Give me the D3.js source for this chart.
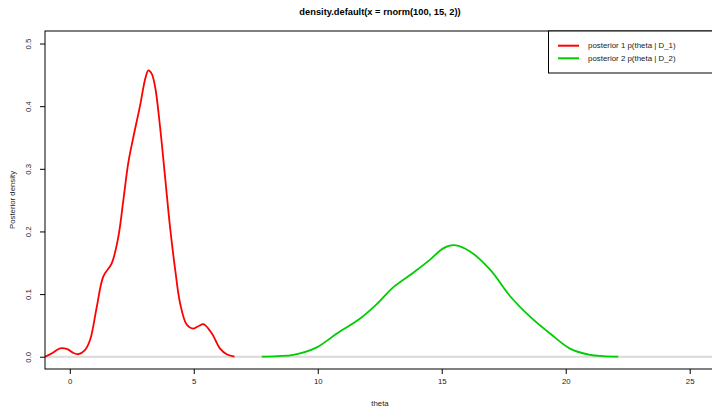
<!DOCTYPE html>
<html>
<head>
<meta charset="utf-8">
<script src="https://cdn.jsdelivr.net/npm/d3@7"></script>
<style>
  body { margin: 0; background: #fff; }
  svg { display: block; font-family: "Liberation Sans", Arial, sans-serif; }
</style>
</head>
<body>
<div id="chart"></div>
<script>
// posterior 1 density (theta, density)
const post1Theta = [-1.0, -0.7, -0.39, -0.1, 0.15, 0.35, 0.6, 0.82, 1.09, 1.35, 1.69, 1.96, 2.16, 2.36, 2.56, 2.83, 3.05, 3.17, 3.3, 3.44, 3.64, 3.84, 4.04, 4.25, 4.45, 4.72, 4.98, 5.2, 5.39, 5.73, 6.06, 6.33, 6.64];
const post1Dens  = [0.0, 0.006, 0.0134, 0.012, 0.006, 0.004, 0.010, 0.027, 0.080, 0.128, 0.149, 0.192, 0.250, 0.310, 0.350, 0.400, 0.445, 0.457, 0.452, 0.431, 0.367, 0.288, 0.208, 0.139, 0.085, 0.051, 0.045, 0.049, 0.052, 0.037, 0.013, 0.004, 0.0];

// posterior 2 density
const post2Theta = [7.74, 8.4, 9.02, 9.96, 10.77, 11.71, 12.38, 13.05, 13.85, 14.53, 15.06, 15.5, 16.14, 16.95, 17.75, 18.56, 19.37, 20.17, 20.98, 21.5, 22.12];
const post2Dens  = [0.0, 0.001, 0.003, 0.015, 0.037, 0.061, 0.084, 0.111, 0.134, 0.155, 0.173, 0.178, 0.168, 0.139, 0.097, 0.064, 0.037, 0.013, 0.003, 0.001, 0.0];

const xTicks = [0, 5, 10, 15, 20, 25];
const yTicks = [0.0, 0.1, 0.2, 0.3, 0.4, 0.5];
const seriesNames = ["posterior 1 p(theta | D_1)", "posterior 2 p(theta | D_2)"];
const seriesColors = ["#ff0000", "#00cd00"];

const width = 712, height = 407;
const margin = {top: 31, right: -3, bottom: 38, left: 45};
const innerLeft = margin.left, innerRight = width - margin.right;
const innerTop = margin.top, innerBottom = height - margin.bottom;

const svg = d3.select("#chart").append("svg")
    .attr("width", width)
    .attr("height", height);

const x = d3.scaleLinear().domain([-1.0, 26.02]).range([innerLeft, innerRight]);
const y = d3.scaleLinear().domain([-0.0196, 0.52]).range([innerBottom, innerTop]);

svg.append("clipPath").attr("id", "clip")
  .append("rect")
    .attr("x", innerLeft).attr("y", innerTop)
    .attr("width", innerRight - innerLeft).attr("height", innerBottom - innerTop);

const plot = svg.append("g").attr("clip-path", "url(#clip)");

// abline at zero
plot.append("line")
    .attr("x1", innerLeft).attr("x2", innerRight)
    .attr("y1", y(0)).attr("y2", y(0))
    .attr("stroke", "#d9d9d9")
    .attr("stroke-width", 2);

const line = d3.line()
    .x(d => x(d[0]))
    .y(d => y(d[1]))
    .curve(d3.curveCatmullRom.alpha(0.5));

const series = [
    d3.zip(post1Theta, post1Dens),
    d3.zip(post2Theta, post2Dens)
];

plot.selectAll("path.dens")
    .data(series)
    .join("path")
    .attr("class", "dens")
    .attr("d", line)
    .attr("fill", "none")
    .attr("stroke", (d, i) => seriesColors[i])
    .attr("stroke-width", 1.8);

// axes
const xAxis = svg.append("g")
    .attr("transform", `translate(0,${innerBottom})`)
    .call(d3.axisBottom(x).tickValues(xTicks).tickFormat(d3.format("d")).tickSize(5).tickPadding(4));
xAxis.select(".domain").remove();

const yAxis = svg.append("g")
    .attr("transform", `translate(${innerLeft},0)`)
    .call(d3.axisLeft(y).tickValues(yTicks).tickFormat(d3.format(".1f")).tickSize(5));
yAxis.select(".domain").remove();
yAxis.selectAll("text")
    .attr("x", 0).attr("dy", 0)
    .attr("transform", "translate(-14,0) rotate(-90)")
    .attr("text-anchor", "middle");

svg.selectAll(".tick line").attr("stroke", "#000");
svg.selectAll(".tick text")
    .style("font-size", "7.8px")
    .attr("fill", "#222");

// box
svg.append("rect")
    .attr("x", innerLeft).attr("y", innerTop)
    .attr("width", innerRight - innerLeft).attr("height", innerBottom - innerTop)
    .attr("fill", "none")
    .attr("stroke", "#000")
    .attr("stroke-width", 1);

// title and labels
const cx = (innerLeft + innerRight) / 2;
svg.append("text")
    .attr("x", cx).attr("y", 15)
    .attr("text-anchor", "middle")
    .style("font-size", "9.3px")
    .style("font-weight", "bold")
    .text("density.default(x = rnorm(100, 15, 2))");

svg.append("text")
    .attr("x", cx).attr("y", 406)
    .attr("text-anchor", "middle")
    .style("font-size", "7.8px")
    .attr("fill", "#222")
    .text("theta");

svg.append("text")
    .attr("transform", `translate(15,${(innerTop + innerBottom) / 2}) rotate(-90)`)
    .attr("text-anchor", "middle")
    .style("font-size", "7.8px")
    .attr("fill", "#222")
    .text("Posterior density");

// legend
const legend = svg.append("g");
legend.append("rect")
    .attr("x", 548.5).attr("y", innerTop)
    .attr("width", 200).attr("height", 42)
    .attr("fill", "#fff")
    .attr("stroke", "#000");

const rows = legend.selectAll("g.row")
    .data(seriesNames)
    .join("g")
    .attr("class", "row")
    .attr("transform", (d, i) => `translate(0,${45.7 + i * 12.6})`);

rows.append("line")
    .attr("x1", 558).attr("x2", 579)
    .attr("stroke", (d, i) => seriesColors[i])
    .attr("stroke-width", 2);

rows.append("text")
    .attr("x", 588).attr("dy", "0.35em")
    .style("font-size", "7.9px")
    .attr("fill", "#222")
    .text(d => d);
</script>
</body>
</html>
